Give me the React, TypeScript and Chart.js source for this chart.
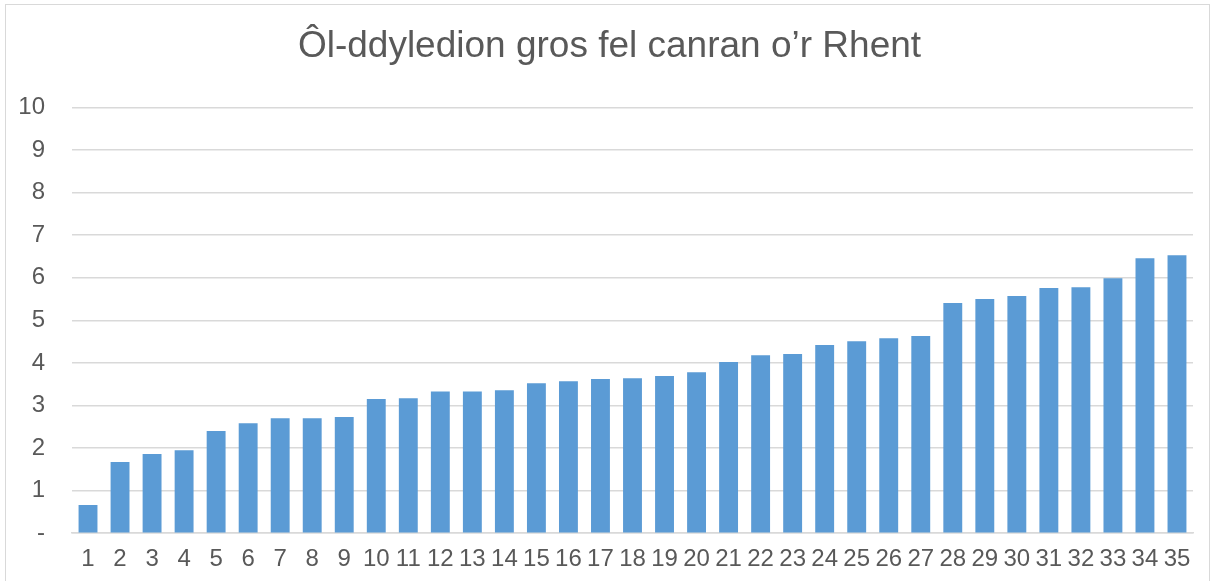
import React, { useEffect, useRef } from "react";
import { Chart, registerables } from "chart.js";

Chart.register(...registerables);

const TITLE = "Ôl-ddyledion gros fel canran o’r Rhent";
const categories = Array.from({ length: 35 }, (_, i) => String(i + 1));
const values = [
  0.66, 1.67, 1.86, 1.95, 2.4, 2.58, 2.7, 2.7, 2.73, 3.15,
  3.17, 3.33, 3.33, 3.36, 3.52, 3.57, 3.62, 3.64, 3.69, 3.78,
  4.02, 4.18, 4.21, 4.42, 4.51, 4.58, 4.63, 5.41, 5.5, 5.57,
  5.76, 5.78, 5.99, 6.46, 6.53,
];
const yMin = 0;
const yMax = 10;
const yStep = 1;

const FONT = "'Liberation Sans', Arial, sans-serif";

const titlePlugin = {
  id: "centeredTitle",
  afterDraw(chart: any) {
    const ctx = chart.ctx;
    ctx.save();
    ctx.font = `37px ${FONT}`;
    ctx.fillStyle = "#595959";
    ctx.textAlign = "center";
    ctx.textBaseline = "alphabetic";
    ctx.fillText(TITLE, 609.5, 57);
    ctx.restore();
  },
};

export default function App() {
  const ref = useRef<HTMLCanvasElement | null>(null);
  useEffect(() => {
    if (!ref.current) return;
    const chart = new Chart(ref.current, {
      type: "bar",
      data: {
        labels: categories,
        datasets: [
          {
            data: values,
            backgroundColor: "#5B9BD5",
            barPercentage: 0.59,
            categoryPercentage: 1,
          },
        ],
      },
      plugins: [titlePlugin],
      options: {
        animation: false,
        responsive: false,
        maintainAspectRatio: false,
        layout: { padding: { left: 0, right: 21, top: 107.5, bottom: 8 } },
        plugins: {
          legend: { display: false },
          tooltip: { enabled: false },
          title: { display: false },
        },
        scales: {
          x: {
            grid: { display: false, drawTicks: false },
            border: { color: "#d9d9d9", width: 1.5 },
            ticks: {
              color: "#595959",
              font: { family: FONT, size: 24 },
              padding: 12,
              maxRotation: 0,
              autoSkip: false,
            },
          },
          y: {
            min: yMin,
            max: yMax,
            afterFit: (s: any) => {
              s.width = 72;
            },
            grid: { color: "#d9d9d9", lineWidth: 1.5, drawTicks: false },
            border: { display: false },
            ticks: {
              stepSize: yStep,
              color: "#595959",
              font: { family: FONT, size: 24 },
              padding: 27,
              callback: (v: any) => (Number(v) === 0 ? "-" : String(v)),
            },
          },
        },
      },
    });
    return () => chart.destroy();
  }, []);
  return (
    <div style={{ position: "absolute", left: 0, top: 0, width: 1214, height: 581, background: "#fff", overflow: "hidden" }}>
      <div
        style={{
          position: "absolute",
          left: 5,
          top: 4,
          width: 1205,
          height: 600,
          border: "1.5px solid #d9d9d9",
          boxSizing: "border-box",
        }}
      />
      <canvas ref={ref} width={1214} height={594} style={{ position: "absolute", left: 0, top: 0, display: "block" }} />
    </div>
  );
}
